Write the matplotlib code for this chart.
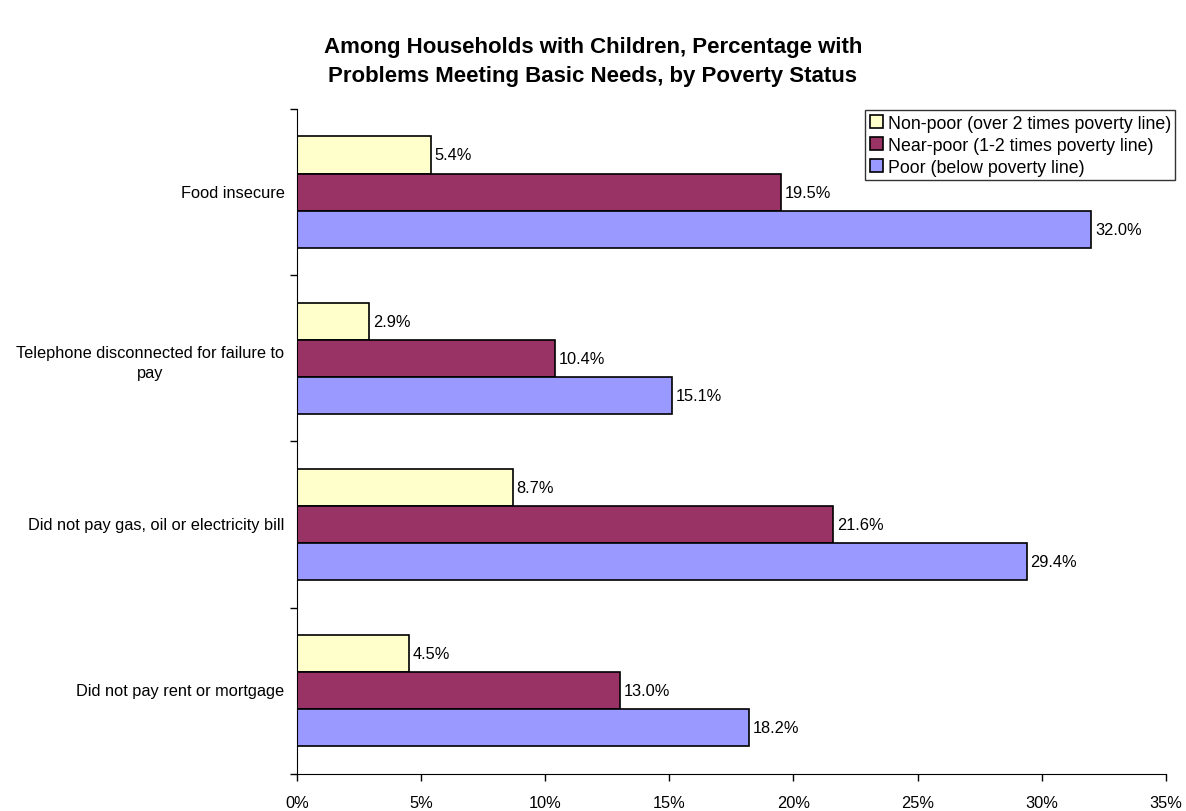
import numpy as np
import matplotlib.pyplot as plt

plt.rcParams['font.family'] = ['Liberation Sans', 'DejaVu Sans']

categories = ['Food insecure', 'Telephone disconnected for failure to\npay',
              'Did not pay gas, oil or electricity bill', 'Did not pay rent or mortgage']
non_poor = [5.4, 2.9, 8.7, 4.5]
near_poor = [19.5, 10.4, 21.6, 13.0]
poor = [32.0, 15.1, 29.4, 18.2]
series_names = ['Non-poor (over 2 times poverty line)',
                'Near-poor (1-2 times poverty line)',
                'Poor (below poverty line)']
colors = ['#FFFFCC', '#993366', '#9999FF']

fig = plt.figure(figsize=(11.86, 8.12), dpi=100)
ax = fig.add_axes([0.2504, 0.0456, 0.7326, 0.819])

y = np.arange(len(categories))
h = 0.223
offsets = [-h, 0, h]
for vals, off, c, name in zip([non_poor, near_poor, poor], offsets, colors, series_names):
    ax.barh(y + off, vals, height=h, color=c, edgecolor='black', linewidth=1.2, label=name)
    for yi, v in zip(y, vals):
        ax.text(v + 0.15, yi + off, '{:.1f}%'.format(v), va='center', ha='left', fontsize=11.8)

ax.set_xlim(0, 35)
ax.set_ylim(3.5, -0.5)
ax.set_xticks(np.arange(0, 36, 5))
ax.set_xticklabels(['{}%'.format(v) for v in range(0, 36, 5)], fontsize=11.8)
ax.set_yticks(np.arange(-0.5, 4, 1))
ax.set_yticklabels([])
ax.tick_params(axis='both', which='major', length=5, width=1, direction='out')
ax.tick_params(axis='x', pad=10)
for s in ['top', 'right']:
    ax.spines[s].set_visible(False)

# category labels, two-line one sits a bit lower like in the original
for yi, cat in zip(y, categories):
    dy = -3 if '\n' in cat else 0
    ax.annotate(cat, xy=(0, yi), xycoords=('axes fraction', 'data'),
                xytext=(-9, dy), textcoords='offset points', ha='right', va='center',
                multialignment='center', linespacing=1.35, fontsize=11.8)

fig.suptitle('Among Households with Children, Percentage with\nProblems Meeting Basic Needs, by Poverty Status',
             fontsize=16, fontweight='bold', y=0.954, linespacing=1.5)

leg = fig.legend(loc='upper right', bbox_to_anchor=(0.991, 0.863), fontsize=12.8,
                 frameon=True, fancybox=False, edgecolor='black', handlelength=0.75,
                 handleheight=0.75, handletextpad=0.25, borderpad=0.25, labelspacing=0.28,
                 borderaxespad=0)
leg.get_frame().set_linewidth(1)

fig.savefig('out.png', dpi=100)
